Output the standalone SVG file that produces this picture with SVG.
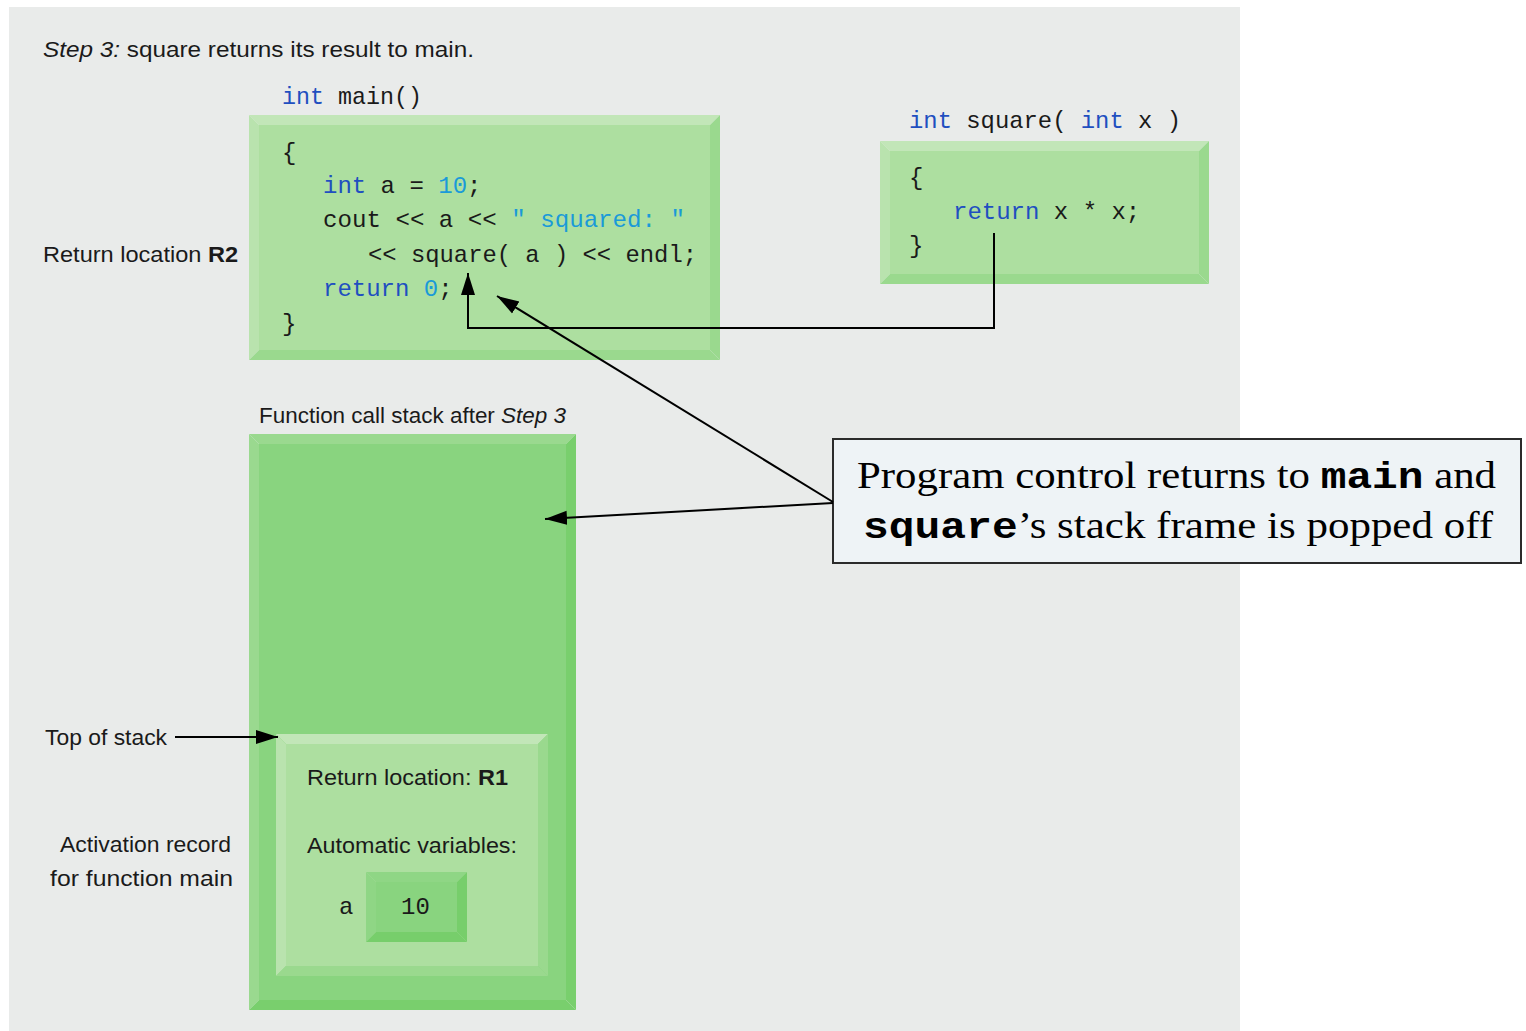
<svg xmlns="http://www.w3.org/2000/svg" width="1526" height="1031" viewBox="0 0 1526 1031">
  <defs>
    <style>
      .lbl { font-family: "Liberation Sans", "DejaVu Sans", sans-serif; font-size: 22px; fill: #1a1a1a; }
      .code { font-family: "Liberation Mono", "DejaVu Sans Mono", monospace; font-size: 24px; fill: #1a1a1a; white-space: pre; }
      .kw { fill: #1f4fc0; }
      .lit { fill: #1a9ad8; }
      .note { font-family: "Liberation Serif", "Times New Roman", serif; font-size: 37px; fill: #000; }
      .nmono { font-family: "Liberation Mono", "Courier New", monospace; font-weight: bold; }
      .wire { fill: none; stroke: #000; stroke-width: 2; }
    </style>
    <marker id="head" markerUnits="userSpaceOnUse" markerWidth="24" markerHeight="16" refX="22" refY="8" orient="auto">
      <path d="M0,1 L22,8 L0,15 Z" fill="#000"/>
    </marker>
  </defs>

  <!-- page panel -->
  <rect x="9" y="7" width="1231" height="1024" fill="#e9ebea"/>

  <!-- heading -->
  <text class="lbl" x="43" y="57" textLength="431" lengthAdjust="spacingAndGlyphs"><tspan font-style="italic">Step 3:</tspan> square returns its result to main.</text>

  <!-- main() code block -->
  <g id="main-func">
    <text class="code" x="282" y="104" textLength="140" lengthAdjust="spacingAndGlyphs"><tspan class="kw">int</tspan> main()</text>
    <polygon points="249,115 720,115 710,125 259,125" fill="#c2e6b8"/>
    <polygon points="249,115 259,125 259,350 249,360" fill="#b9e3ae"/>
    <polygon points="720,115 720,360 710,350 710,125" fill="#9ad98e"/>
    <polygon points="249,360 720,360 710,350 259,350" fill="#9ad98e"/>
    <rect x="259" y="125" width="451" height="225" fill="#addfa0"/>
    <text class="code" x="282" y="160">{</text>
    <text class="code" x="323" y="193"><tspan class="kw">int</tspan> a = <tspan class="lit">10</tspan>;</text>
    <text class="code" x="323" y="227" textLength="362" lengthAdjust="spacingAndGlyphs">cout &lt;&lt; a &lt;&lt; <tspan class="lit">" squared: "</tspan></text>
    <text class="code" x="368" y="262" textLength="329" lengthAdjust="spacingAndGlyphs">&lt;&lt; square( a ) &lt;&lt; endl;</text>
    <text class="code" x="323" y="296"><tspan class="kw">return</tspan> <tspan class="lit">0</tspan>;</text>
    <text class="code" x="282" y="331">}</text>
  </g>

  <!-- square() code block -->
  <g id="square-func">
    <text class="code" x="909" y="128" textLength="272" lengthAdjust="spacingAndGlyphs"><tspan class="kw">int</tspan> square( <tspan class="kw">int</tspan> x )</text>
    <polygon points="880,141 1209,141 1199,151 890,151" fill="#c2e6b8"/>
    <polygon points="880,141 890,151 890,274 880,284" fill="#b9e3ae"/>
    <polygon points="1209,141 1209,284 1199,274 1199,151" fill="#9ad98e"/>
    <polygon points="880,284 1209,284 1199,274 890,274" fill="#9ad98e"/>
    <rect x="890" y="151" width="309" height="123" fill="#addfa0"/>
    <text class="code" x="909" y="185">{</text>
    <text class="code" x="953" y="219"><tspan class="kw">return</tspan> x * x;</text>
    <text class="code" x="909" y="253">}</text>
  </g>

  <!-- return location label -->
  <g id="label-r2">
    <text class="lbl" x="43" y="262" textLength="195" lengthAdjust="spacingAndGlyphs">Return location <tspan font-weight="bold">R2</tspan></text>
  </g>

  <!-- call stack -->
  <g id="call-stack">
    <text class="lbl" x="259" y="423" textLength="307" lengthAdjust="spacingAndGlyphs">Function call stack after <tspan font-style="italic">Step 3</tspan></text>
    <polygon points="249,434 576,434 566,444 259,444" fill="#9ad98f"/>
    <polygon points="249,434 259,444 259,1000 249,1010" fill="#9ad98f"/>
    <polygon points="576,434 576,1010 566,1000 566,444" fill="#79cf6d"/>
    <polygon points="249,1010 576,1010 566,1000 259,1000" fill="#79cf6d"/>
    <rect x="259" y="444" width="307" height="556" fill="#89d47f"/>
  </g>

  <!-- activation record for main -->
  <g id="activation-main">
    <polygon points="276,734 548,734 538,744 286,744" fill="#c2e6b8"/>
    <polygon points="276,734 286,744 286,966 276,976" fill="#b9e3ae"/>
    <polygon points="548,734 548,976 538,966 538,744" fill="#9ad98e"/>
    <polygon points="276,976 548,976 538,966 286,966" fill="#9ad98e"/>
    <rect x="286" y="744" width="252" height="222" fill="#addfa0"/>
    <text class="lbl" x="307" y="785" textLength="201" lengthAdjust="spacingAndGlyphs">Return location: <tspan font-weight="bold">R1</tspan></text>
    <text class="lbl" x="307" y="853" textLength="210" lengthAdjust="spacingAndGlyphs">Automatic variables:</text>
    <text class="code" x="339" y="914">a</text>
    <polygon points="366,872 467,872 457,882 376,882" fill="#8fd685"/>
    <polygon points="366,872 376,882 376,932 366,942" fill="#8fd685"/>
    <polygon points="467,872 467,942 457,932 457,882" fill="#77ce6b"/>
    <polygon points="366,942 467,942 457,932 376,932" fill="#77ce6b"/>
    <rect x="376" y="882" width="81" height="50" fill="#89d47f"/>
    <text class="code" x="401" y="914">10</text>
  </g>

  <!-- side labels -->
  <g id="label-top">
    <text class="lbl" x="45" y="745" textLength="122" lengthAdjust="spacingAndGlyphs">Top of stack</text>
  </g>
  <g id="label-activation">
    <text class="lbl" x="60" y="852" textLength="171" lengthAdjust="spacingAndGlyphs">Activation record</text>
    <text class="lbl" x="50" y="886" textLength="183" lengthAdjust="spacingAndGlyphs">for function main</text>
  </g>

  <!-- callout -->
  <g id="callout">
    <rect x="833" y="439" width="688" height="124" fill="#eef3f6" stroke="#2b2b2b" stroke-width="2"/>
    <text class="note" x="857" y="488" textLength="639" lengthAdjust="spacingAndGlyphs">Program control returns to <tspan class="nmono">main</tspan> and</text>
    <text class="note" x="863" y="538" textLength="630" lengthAdjust="spacingAndGlyphs"><tspan class="nmono">square</tspan>’s stack frame is popped off</text>
  </g>

  <!-- connectors -->
  <g id="connectors">
    <polyline class="wire" points="994,233 994,328 468,328 468,273" marker-end="url(#head)"/>
    <line class="wire" x1="833" y1="502" x2="497" y2="296" marker-end="url(#head)"/>
    <line class="wire" x1="833" y1="503" x2="545" y2="519" marker-end="url(#head)"/>
    <line class="wire" x1="175" y1="737" x2="278" y2="737" marker-end="url(#head)"/>
  </g>
</svg>
